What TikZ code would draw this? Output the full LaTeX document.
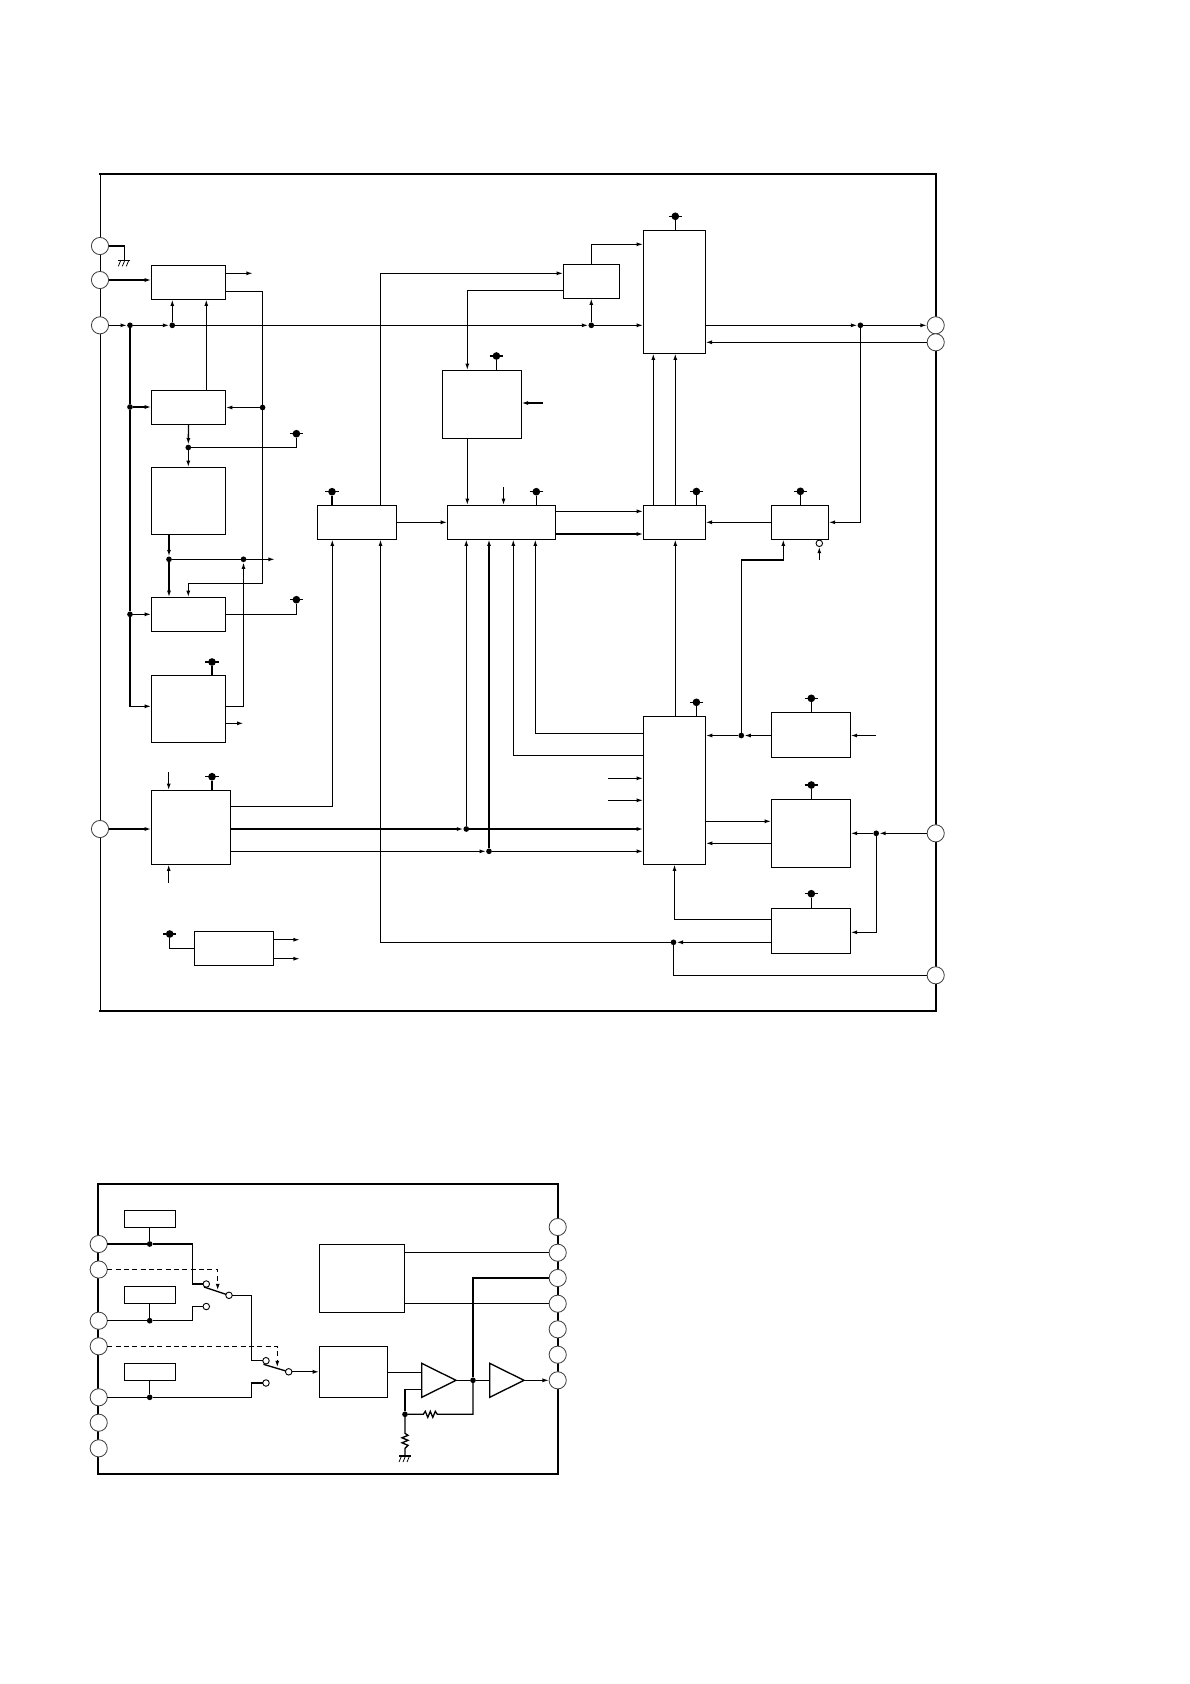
\documentclass[tikz,border=0pt]{standalone}
\usetikzlibrary{arrows.meta}
\tikzset{
  box/.style={draw=black,line width=0.8pt,fill=white,inner sep=0pt,outer sep=0pt},
  wire/.style={draw=black,line width=0.8pt,line join=miter},
  arr/.style={wire,-{Latex[length=4pt,width=2.4pt]}},
  dashwire/.style={wire,dash pattern=on 3pt off 2pt,-{Latex[length=4pt,width=2.4pt]}},
  pinc/.style={circle,draw=black!75,line width=0.5pt,fill=white,minimum size=10.3pt,inner sep=0pt,outer sep=0pt},
  jdot/.style={circle,fill=black,minimum size=3.4pt,inner sep=0pt,outer sep=0pt},
  pwrdot/.style={circle,fill=black,minimum size=4.6pt,inner sep=0pt,outer sep=0pt},
  swc/.style={circle,draw=black,line width=0.55pt,fill=white,minimum size=3.9pt,inner sep=0pt,outer sep=0pt},
  frameline/.style={draw=black,line width=1.35pt,line cap=rect},
}
\newcommand{\bx}[5]{%
  \pgfmathsetmacro{\bxw}{(#4-#2)*0.6}%
  \pgfmathsetmacro{\bxh}{(#5-#3)*0.6}%
  \node[box,minimum width=\bxw pt,minimum height=\bxh pt] (#1) at ({(#2+#4)/2},{(#3+#5)/2}) {};}
\newcommand{\pw}[3]{%
  \node[pwrdot] (#1) at (#2,#3) {};
  \draw[wire] ([xshift=-4pt]#1.center) -- ([xshift=4pt]#1.center);}
\newcommand{\gnd}[2]{%
  \draw[wire] ({#1-6},#2) -- ({#1+6},#2);
  \foreach \gi in {-3.5,0.5,4.5} {\draw[black,line width=0.45pt] ({#1+\gi},#2) -- ({#1+\gi-2.5},{#2+6});}}
\begin{document}
\begin{tikzpicture}[x=0.6pt,y=-0.6pt]
\path[fill=white] (0,0) rectangle (1190,1684);
\useasboundingbox (0,0) rectangle (1190,1684);
% ---------- upper frame
\draw[wire] (100.3,174) -- (100.3,1011);
\draw[frameline] (100.3,174) -- (936,174) -- (936,1011) -- (100.3,1011);
% pins
\node[pinc] (P1) at (100,246) {};
\node[pinc] (P2) at (100,280) {};
\node[pinc] (P3) at (100,325.3) {};
\node[pinc] (P4) at (100,829) {};
\node[pinc] (R1) at (935.7,325.3) {};
\node[pinc] (R2) at (935.7,342.3) {};
\node[pinc] (R3) at (935.7,833.3) {};
\node[pinc] (R4) at (935.7,975.3) {};
% boxes
\bx{A}{151.3}{265.3}{225.7}{299.3}
\bx{B}{151.3}{390.3}{225.7}{424.3}
\bx{C}{151.3}{467.3}{225.7}{534.3}
\bx{D}{151.3}{597.3}{225.7}{631.3}
\bx{E}{151.3}{675.3}{225.7}{742.3}
\bx{F}{151.3}{790.3}{230.3}{864.3}
\bx{G}{194.3}{931.3}{273.3}{965.3}
\bx{H}{317.3}{505.3}{396.7}{539.3}
\bx{I}{447.4}{505.3}{555.3}{539.3}
\bx{J}{442.3}{370.3}{521.4}{438.3}
\bx{K}{563.3}{264.3}{619.3}{298.3}
\bx{L}{643.3}{230.3}{705.4}{353.3}
\bx{M}{643.3}{505.3}{705.4}{539.3}
\bx{N}{771.3}{505.3}{828.5}{539.3}
\bx{O}{643.3}{716.3}{705.7}{864.3}
\bx{PP}{771.3}{712.3}{850.5}{757.3}
\bx{Q}{771.3}{799.3}{850.5}{867.3}
\bx{RR}{771.3}{908.3}{850.5}{953.3}
% junctions
\node[jdot] (d3a) at (130,325.3) {};
\node[jdot] (d3b) at (172.3,325.3) {};
\node[jdot] (d3k) at (591.3,325.3) {};
\node[jdot] (dB)  at (130,407) {};
\node[jdot] (dD)  at (130,614.3) {};
\node[jdot] (dBe) at (262.6,407.5) {};
\node[jdot] (dBC) at (188.3,447.5) {};
\node[jdot] (dC)  at (169,559.3) {};
\node[jdot] (dCe) at (243.5,559.3) {};
\node[jdot] (dR1) at (860.4,325.3) {};
\node[jdot] (dI1) at (466.3,829) {};
\node[jdot] (dI2) at (489,851.3) {};
\node[jdot] (dPO) at (741.3,735.5) {};
\node[jdot] (dR3) at (876.2,833.3) {};
\node[jdot] (dR4) at (673.5,942.3) {};
% supply marks
\pw{vB}{296.4}{433.7}
\pw{vD}{296.4}{599.7}
\pw{vE}{212}{662}
\pw{vF}{212}{776.7}
\pw{vG}{169.7}{934}
\pw{vH}{332}{491.7}
\pw{vI}{536.3}{491.7}
\pw{vJ}{496.4}{356}
\pw{vL}{675.3}{216.3}
\pw{vM}{696.4}{491.5}
\pw{vN}{800.4}{491.3}
\pw{vO}{696.4}{702.3}
\pw{vP}{811.3}{698.3}
\pw{vQ}{811.3}{785}
\pw{vR}{811.3}{893.7}
% free ends and bends
\coordinate (g1) at (124.3,260.3);
\coordinate (aT) at (253,273.3);
\coordinate (aL) at (225.7,291.3);
\coordinate (dTop) at (188.3,583.3);
\coordinate (eR) at (243.5,706.3);
\coordinate (eO) at (243.7,723.3);
\coordinate (cOut) at (275,559.3);
\coordinate (fT) at (168.7,772);
\coordinate (fB) at (168.7,882.7);
\coordinate (fH) at (332.3,806.3);
\coordinate (gA) at (300,939.7);
\coordinate (gB) at (300,958.7);
\coordinate (kH) at (380.5,273.3);
\coordinate (kJ) at (467.3,290.3);
\coordinate (kT) at (591.3,244.3);
\coordinate (jI) at (543,403);
\coordinate (iT) at (503.5,487);
\coordinate (oA) at (535.3,733.3);
\coordinate (oB) at (513.3,755.3);
\coordinate (oC) at (608,778.3);
\coordinate (oD) at (608,800.3);
\coordinate (rO) at (674.5,919.3);
\coordinate (hB) at (380.5,942.3);
\coordinate (nB) at (783.3,560);
\coordinate (nM) at (741.3,560);
\coordinate (nS) at (819.3,560);
\coordinate (bA) at (206.3,345);
\coordinate (mA) at (653.3,430);
\coordinate (mB) at (675.3,430);
\coordinate (iA) at (500,511.3);
\coordinate (iB) at (500,534);
\coordinate (qA) at (740,821.3);
\coordinate (qB) at (740,843.3);
\coordinate (rE) at (860,932.3);
\node[swc] (nC) at (819.3,543.3) {};
\coordinate (pI) at (876,735.5);
% wires, upper part
\draw[wire] (P1) -| (g1);
\gnd{124.3}{260.3}
\draw[arr] (P2) -- (P2 -| A.west);
\draw[arr] (A.east |- aT) -- (aT);
\draw[wire] (aL) -| (dBe);
\draw[arr] (dBe) |- (dTop) -- (dTop |- D.north);
\draw[arr] (dBe) -- (dBe -| B.east);
\draw[arr] (P3) -- (d3a);
\draw[arr] (d3a) -- (d3b);
\draw[arr] (d3b) -- (d3k);
\draw[arr] (d3k) -- (d3k -| L.west);
\draw[arr] (d3b) -- (d3b |- A.south);
\draw[arr] (bA |- B.north) -- (bA |- A.south);
\draw[wire] (d3a) -- (dB);
\draw[wire] (dB) -- (dD);
\draw[arr] (dD) |- (E.west |- eR);
\draw[arr] (dB) -- (dB -| B.west);
\draw[arr] (dD) -- (dD -| D.west);
\draw[arr] (B.south) -- (dBC);
\draw[arr] (dBC) -- (dBC |- C.north);
\draw[wire] (dBC) -| (vB);
\draw[arr] (dC |- C.south) -- (dC);
\draw[wire] (dC) -- (dCe);
\draw[arr] (dCe) -- (cOut);
\draw[arr] (dC) -- (dC |- D.north);
\draw[wire] (D.east |- dD) -| (vD);
\draw[wire] (vE) -- (vE |- E.north);
\draw[wire] (E.east |- eR) -- (eR);
\draw[arr] (eR) -- (dCe);
\draw[arr] (E.east |- eO) -- (eO);
\draw[wire] (vF) -- (vF |- F.north);
\draw[arr] (fT) -- (fT |- F.north);
\draw[arr] (fB) -- (fB |- F.south);
\draw[arr] (P4) -- (P4 -| F.west);
\draw[arr] (F.east |- fH) -- (fH) -- (fH |- H.south);
\draw[arr] (F.east |- dI1) -- (dI1);
\draw[arr] (dI1) -- (dI1 -| O.west);
\draw[arr] (F.east |- dI2) -- (dI2);
\draw[arr] (dI2) -- (dI2 -| O.west);
\draw[arr] (dI1) -- (dI1 |- I.south);
\draw[arr] (dI2) -- (dI2 |- I.south);
\draw[arr] (O.west |- oB) -- (oB) -- (oB |- I.south);
\draw[arr] (O.west |- oA) -- (oA) -- (oA |- I.south);
\draw[arr] (oC) -- (oC -| O.west);
\draw[arr] (oD) -- (oD -| O.west);
\draw[wire] (vG) |- (G.west);
\draw[arr] (G.east |- gA) -- (gA);
\draw[arr] (G.east |- gB) -- (gB);
\draw[wire] (vH) -- (vH |- H.north);
\draw[arr] (kH |- H.north) -- (kH) -- (kH -| K.west);
\draw[arr] (H.east) -- (H.east -| I.west);
\draw[arr] (K.west |- kJ) -- (kJ) -- (kJ |- J.north);
\draw[wire] (vJ) -- (vJ |- J.north);
\draw[arr] (jI) -- (jI -| J.east);
\draw[arr] (kJ |- J.south) -- (kJ |- I.north);
\draw[arr] (iT) -- (iT |- I.north);
\draw[wire] (vI) -- (vI |- I.north);
\draw[arr] (I.east |- iA) -- (M.west |- iA);
\draw[arr] (I.east |- iB) -- (M.west |- iB);
\draw[arr] (kT |- K.north) -- (kT) -- (kT -| L.west);
\draw[arr] (d3k) -- (d3k |- K.south);
\draw[wire] (vL) -- (vL |- L.north);
\draw[arr] (L.east |- R1) -- (dR1);
\draw[arr] (dR1) -- (R1);
\draw[arr] (R2) -- (R2 -| L.east);
\draw[arr] (dR1) |- (N.east);
\draw[arr] (mA |- M.north) -- (mA |- L.south);
\draw[arr] (mB |- M.north) -- (mB |- L.south);
\draw[wire] (vM) -- (vM |- M.north);
\draw[arr] (N.west) -- (N.west -| M.east);
\draw[wire] (vN) -- (vN |- N.north);
\draw[arr] (dPO) -- (nM) -- (nB) -- (nB |- N.south);
\draw[arr] (PP.west |- dPO) -- (dPO);
\draw[arr] (dPO) -- (dPO -| O.east);
\draw[arr] (nS) -- (nC);
\draw[wire] (vP) -- (vP |- PP.north);
\draw[arr] (pI) -- (pI -| PP.east);
\draw[wire] (vO) -- (vO |- O.north);
\draw[arr] (mB |- O.north) -- (mB |- M.south);
\draw[wire] (vQ) -- (vQ |- Q.north);
\draw[arr] (O.east |- qA) -- (Q.west |- qA);
\draw[arr] (Q.west |- qB) -- (O.east |- qB);
\draw[arr] (R3) -- (dR3);
\draw[arr] (dR3) -- (dR3 -| Q.east);
\draw[arr] (dR3) |- (RR.east |- rE);
\draw[wire] (vR) -- (vR |- RR.north);
\draw[arr] (RR.west |- rO) -- (rO) -- (rO |- O.south);
\draw[arr] (RR.west |- dR4) -- (dR4);
\draw[arr] (dR4) -- (hB) -- (hB |- H.south);
\draw[wire] (dR4) |- (R4);
% ---------- lower frame
\draw[draw=black,line width=1.1pt] (98.3,1184.3) rectangle (558,1473.7);
\node[pinc] (La) at (98.7,1244) {};
\node[pinc] (Lb) at (98.7,1269.5) {};
\node[pinc] (Lc) at (98.7,1320.7) {};
\node[pinc] (Ld) at (98.7,1346.3) {};
\node[pinc] (Le) at (98.7,1397.3) {};
\node[pinc] (Lf) at (98.7,1422.7) {};
\node[pinc] (Lg) at (98.7,1448.3) {};
\node[pinc] (Ra) at (557.7,1227) {};
\node[pinc] (Rb) at (557.7,1252.7) {};
\node[pinc] (Rc) at (557.7,1278) {};
\node[pinc] (Rd) at (557.7,1303.7) {};
\node[pinc] (Re) at (557.7,1329.3) {};
\node[pinc] (Rf) at (557.7,1354.7) {};
\node[pinc] (Rg) at (557.7,1380.3) {};
\bx{Sa}{124.3}{1210.7}{175.7}{1227.3}
\bx{Sb}{124.3}{1286.3}{175.7}{1303.3}
\bx{Sc}{124.3}{1363.3}{175.7}{1380.3}
\bx{X}{319.3}{1244.3}{404.3}{1312.3}
\bx{Y}{319.3}{1346.3}{387.3}{1397.3}
\node[jdot] (ja) at (149.7,1244) {};
\node[jdot] (jc) at (149.7,1320.7) {};
\node[jdot] (je) at (149.7,1397.3) {};
\node[jdot] (jt) at (473,1380.3) {};
\node[jdot] (jf) at (405,1414.3) {};
\node[swc] (s1a) at (206.3,1284) {};
\node[swc] (s1b) at (206.3,1306.5) {};
\node[swc] (s1c) at (229,1295.3) {};
\node[swc] (s2a) at (266,1360.7) {};
\node[swc] (s2b) at (266,1383) {};
\node[swc] (s2c) at (288.7,1371.8) {};
\coordinate (w1) at (192.3,1284);
\coordinate (w2) at (192.3,1306.5);
\coordinate (w3) at (251.7,1360.7);
\coordinate (w4) at (251.7,1383);
\coordinate (a1) at (204,1287);
\coordinate (a2) at (263.5,1364.3);
\coordinate (t1w) at (421.7,1372.3);
\coordinate (t1l) at (421.7,1389.7);
\coordinate (t2w) at (489.7,1380.3);
\coordinate (t1t) at (456,1380.3);
\coordinate (t2t) at (524,1380.3);
\coordinate (rs) at (423.3,1414.3);
\coordinate (re) at (437.3,1414.3);
\coordinate (vs) at (405,1433.3);
\coordinate (ve) at (405,1448.3);
\coordinate (g2) at (405,1456);
\coordinate (da1) at (217.7,1290.5);
\coordinate (da2) at (277.3,1367.5);
\coordinate (tTop) at (0,1363.3);
\coordinate (tBot) at (0,1397.3);
% lower wires
\draw[wire] (ja) -- (Sa.south -| ja);
\draw[wire] (jc) -- (Sb.south -| jc);
\draw[wire] (je) -- (Sc.south -| je);
\draw[wire] (La) -- (ja);
\draw[wire] (ja) -| (w1) -- (s1a);
\draw[wire] (Lc) -- (jc);
\draw[wire] (jc) -| (w2) -- (s1b);
\draw[wire] (Le) -- (je);
\draw[wire] (je) -| (w4) -- (s2b);
\draw[wire] (a1) -- (s1c);
\draw[wire] (a2) -- (s2c);
\draw[wire] (s1c) -| (w3) -- (s2a);
\draw[dashwire] (Lb) -| (da1);
\draw[dashwire] (Ld) -| (da2);
\draw[arr] (s2c) -- (s2c -| Y.west);
\draw[wire] (Y.east |- t1w) -- (t1w);
\draw[wire] (X.east |- Rb) -- (Rb);
\draw[wire] (X.east |- Rd) -- (Rd);
\draw[wire] (jt) -- (jt |- Rc) -- (Rc);
\draw[wire] (t1t) -- (jt);
\draw[wire] (jt) -- (t2w);
\draw[arr] (t2t) -- (Rg);
\draw[wire] (t1l) -| (jf);
\draw[wire] (jf) -- (rs) -- ++(2,-3) -- ++(2.5,6) -- ++(2.5,-6) -- ++(2.5,6) -- ++(2.5,-6) -- (re) -- (re -| jt) -- (jt);
\draw[wire] (jf) -- (vs) -- ++(3,2) -- ++(-6,2.5) -- ++(6,2.5) -- ++(-6,2.5) -- ++(6,2.5) -- (ve) -- (g2);
\gnd{405}{1456}
\draw[wire,fill=white] (t1w |- tTop) -- (t1t) -- (t1w |- tBot) -- cycle;
\draw[wire,fill=white] (t2w |- tTop) -- (t2t) -- (t2w |- tBot) -- cycle;
\end{tikzpicture}
\end{document}
